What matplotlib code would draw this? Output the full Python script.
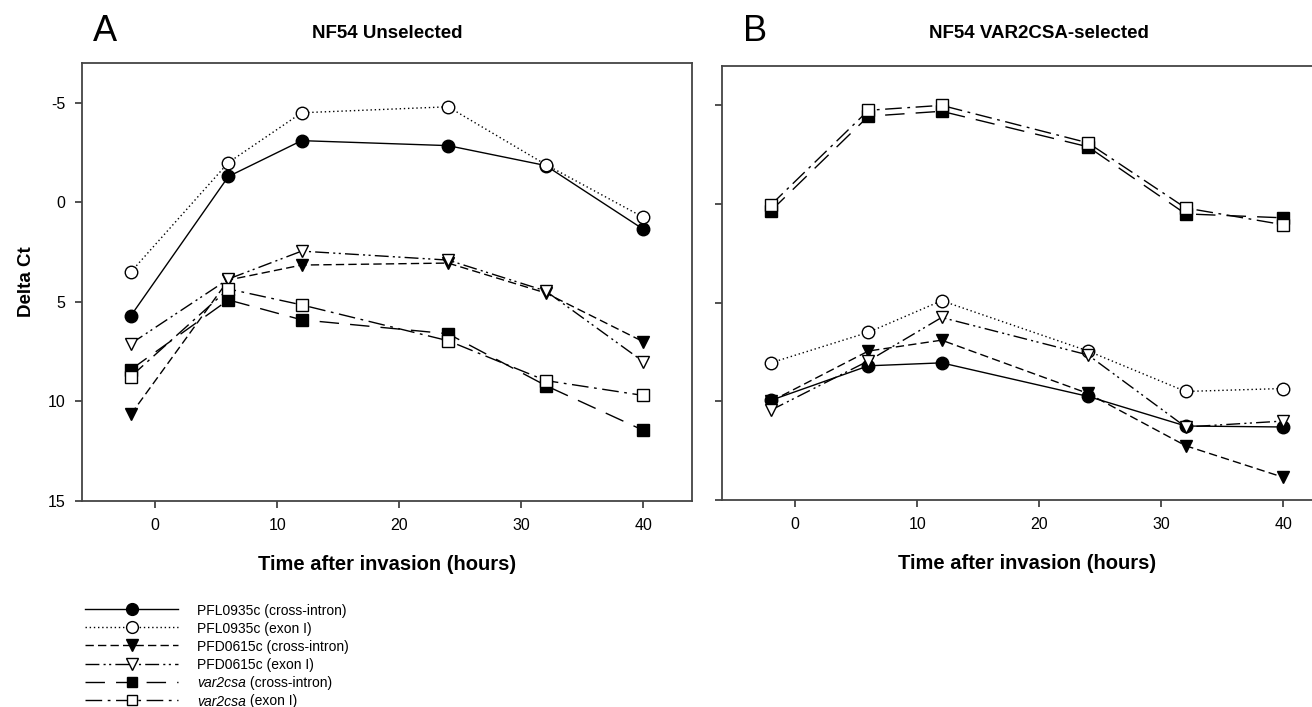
import matplotlib
matplotlib.use("Agg")
import matplotlib.pyplot as plt
from matplotlib.lines import Line2D
from matplotlib.text import Annotation

plt.rcParams['font.family'] = ['Liberation Sans', 'DejaVu Sans']
plt.rcParams['axes.unicode_minus'] = False

hours = [-2, 6, 12, 24, 32, 40]

# (italic gene part, plain rest) for each legend entry
series_names = [("", "PFL0935c (cross-intron)"), ("", "PFL0935c (exon I)"),
                ("", "PFD0615c (cross-intron)"), ("", "PFD0615c (exon I)"),
                ("var2csa", " (cross-intron)"), ("var2csa", " (exon I)")]

# panel A - NF54 unselected
a_pfl_ci = [5.7, -1.3, -3.1, -2.85, -1.85, 1.35]
a_pfl_ex = [3.5, -2.0, -4.5, -4.8, -1.9, 0.75]
a_pfd_ci = [10.65, 3.9, 3.15, 3.05, 4.55, 7.0]
a_pfd_ex = [7.1, 3.85, 2.45, 2.9, 4.45, 8.0]
a_var_ci = [8.4, 4.9, 5.9, 6.6, 9.2, 11.45]
a_var_ex = [8.75, 4.35, 5.15, 6.95, 8.95, 9.7]

# panel B - NF54 VAR2CSA-selected
b_pfl_ci = [9.95, 8.2, 8.05, 9.75, 11.25, 11.3]
b_pfl_ex = [8.05, 6.5, 4.9, 7.45, 9.5, 9.35]
b_pfd_ci = [10.0, 7.45, 6.9, 9.6, 12.25, 13.85]
b_pfd_ex = [10.45, 7.95, 5.75, 7.65, 11.3, 11.0]
b_var_ci = [0.35, -4.45, -4.7, -2.9, 0.5, 0.7]
b_var_ex = [0.05, -4.75, -5.0, -3.1, 0.2, 1.05]

panel_a = [a_pfl_ci, a_pfl_ex, a_pfd_ci, a_pfd_ex, a_var_ci, a_var_ex]
panel_b = [b_pfl_ci, b_pfl_ex, b_pfd_ci, b_pfd_ex, b_var_ci, b_var_ex]

styles = [
    dict(ls='-', marker='o', mfc='black'),
    dict(ls=(0, (1, 2)), marker='o', mfc='white'),
    dict(ls=(0, (6, 3)), marker='v', mfc='black'),
    dict(ls=(0, (10, 3, 1.5, 2.5, 1.5, 3)), marker='v', mfc='white'),
    dict(ls=(0, (14, 8)), marker='s', mfc='black'),
    dict(ls=(0, (12, 4, 2, 4)), marker='s', mfc='white'),
]
msizes = [9, 9, 9, 9, 8, 8]

W, H = 1312, 707
fig = plt.figure(figsize=(W / 100, H / 100), dpi=100)
axA = fig.add_axes([0.0625, 0.2914, 0.465, 0.6195])
axB = fig.add_axes([0.5503, 0.2928, 0.465, 0.614])


def draw(ax, data):
    for vals, st, ms in zip(data, styles, msizes):
        ax.plot(hours, vals, color='black', lw=1.0, ls=st['ls'],
                marker=st['marker'], mfc=st['mfc'], mec='black',
                mew=1.0, ms=ms)
    ax.set_xlim(-6, 44)
    ax.set_ylim(15, -7)
    ax.set_xticks([0, 10, 20, 30, 40])
    ax.set_yticks([-5, 0, 5, 10, 15])
    ax.tick_params(direction='out', length=5, width=1.2, labelsize=11.5,
                   top=False, right=False, color='#333333', pad=7)
    for sp in ax.spines.values():
        sp.set_color('#444444')
        sp.set_linewidth(1.3)
    ax.set_xlabel('Time after invasion (hours)', fontsize=14.5,
                  fontweight='bold', labelpad=16)


draw(axA, panel_a)
draw(axB, panel_b)
axB.set_yticklabels([])
axA.set_ylabel('Delta Ct', fontsize=13.5, fontweight='bold', labelpad=9)

fig.text(0.071, 0.955, 'A', fontsize=26, va='center', ha='left')
fig.text(0.295, 0.953, 'NF54 Unselected', fontsize=13.5,
         fontweight='bold', va='center', ha='center')
fig.text(0.566, 0.955, 'B', fontsize=26, va='center', ha='left')
fig.text(0.792, 0.953, 'NF54 VAR2CSA-selected', fontsize=13.5,
         fontweight='bold', va='center', ha='center')

# legend drawn by hand so every row gets the same spacing
for i, (st, ms, name) in enumerate(zip(styles, msizes, series_names)):
    y = 1 - (609 + 18.2 * i) / H
    fig.add_artist(Line2D([85 / W, 178 / W], [y, y], transform=fig.transFigure,
                          color='black', lw=1.0, ls=st['ls']))
    fig.add_artist(Line2D([132 / W], [y], transform=fig.transFigure,
                          marker=st['marker'], mfc=st['mfc'], mec='black',
                          mew=1.0, ms=ms - 0.5, ls='none'))
    ital, rest = name
    if ital:
        t = fig.text(197 / W, y, ital, fontsize=10, style='italic',
                     va='center_baseline', ha='left')
        fig.add_artist(Annotation(rest, xy=(1, 0), xycoords=t, fontsize=10,
                                  va='bottom', ha='left'))
    else:
        fig.text(197 / W, y, rest, fontsize=10, va='center_baseline', ha='left')

fig.savefig('out.png', dpi=100)
